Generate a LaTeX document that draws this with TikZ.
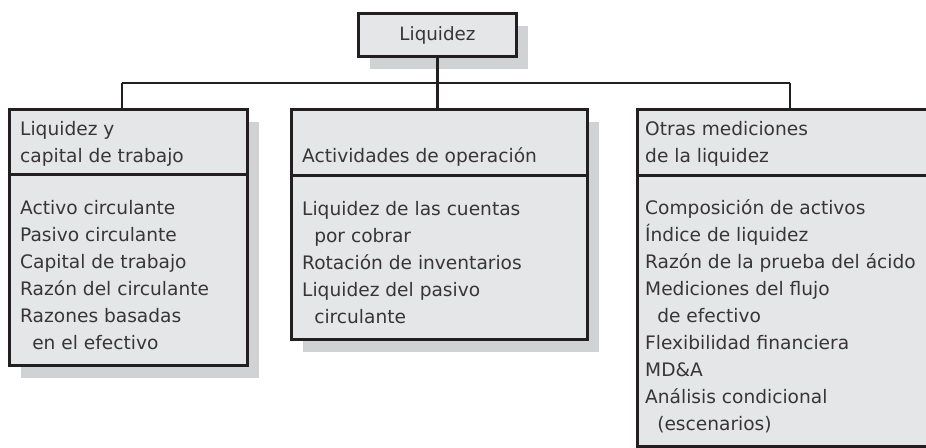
\documentclass[tikz,border=0pt]{standalone}
\usepackage{fontspec}
\setmainfont{DejaVu Sans}
\usetikzlibrary{shadows}
\definecolor{boxgray}{HTML}{E5E6E8}
\definecolor{shadowgray}{HTML}{D1D2D4}
\definecolor{ink}{HTML}{231F20}
\tikzset{
  panel/.style={draw=ink, line width=3pt, fill=boxgray, inner sep=0pt,
    anchor=north west,
    drop shadow={shadow xshift=11pt, shadow yshift=-12pt, fill=shadowgray, opacity=1}},
  conn/.style={draw=ink, line width=2.7pt},
  divider/.style={draw=ink, line width=3pt},
  txt/.style={anchor=base west, inner sep=0pt, align=left, text=ink!90,
    font=\fontsize{18.6pt}{27pt}\selectfont},
  toptxt/.style={inner sep=0pt, text=ink!90, font=\fontsize{18.3pt}{27pt}\selectfont}
}
\newcommand{\ind}{\hspace*{0.65em}}
\begin{document}
\begin{tikzpicture}[x=1pt,y=-1pt]
\useasboundingbox (0,0) rectangle (926,447);
\clip (0,0) rectangle (926,447);
% boxes
\node[panel, minimum width=158pt, minimum height=43pt] (top) at (357,12) {};
\node[panel, minimum width=238pt, minimum height=256pt] (L) at (8,108) {};
\node[panel, minimum width=296pt, minimum height=230pt] (M) at (290,108) {};
\node[panel, minimum width=320pt, minimum height=337pt] (R) at (636,108) {};
% dividers
\coordinate (dl) at (0,174);
\coordinate (dm) at (0,175);
\coordinate (dr) at (0,175);
\draw[divider] (L.west |- dl) -- (L.east |- dl);
\draw[divider] (M.west |- dm) -- (M.east |- dm);
\draw[divider] (R.west |- dr) -- (R.east |- dr);
% connectors
\coordinate (bl) at (122,83);
\coordinate (br) at (790,83);
\draw[conn] (top.south) -- (top.south |- M.north);
\draw[conn] (bl) -- (br);
\draw[conn] (bl) -- (bl |- L.north);
\draw[conn] (br) -- (br |- R.north);
% texts (anchor = baseline of the last line)
\node[toptxt] (ttop) at (top.center) {Liquidez};
\node[txt] (lh) at (20,162) {Liquidez y\\capital de trabajo};
\node[txt] (lb) at (20,349) {Activo circulante\\Pasivo circulante\\Capital de trabajo\\Razón del circulante\\Razones basadas\\\ind en el efectivo};
\node[txt] (mh) at (302,162) {Actividades de operación};
\node[txt] (mb) at (302,323) {Liquidez de las cuentas\\\ind por cobrar\\Rotación de inventarios\\Liquidez del pasivo\\\ind circulante};
\node[txt] (rh) at (645,162) {Otras mediciones\\de la liquidez};
\node[txt] (rb) at (645,430) {Composición de activos\\Índice de liquidez\\Razón de la prueba del ácido\\Mediciones del flujo\\\ind de efectivo\\Flexibilidad financiera\\MD\&A\\Análisis condicional\\\ind (escenarios)};
\end{tikzpicture}
\end{document}
